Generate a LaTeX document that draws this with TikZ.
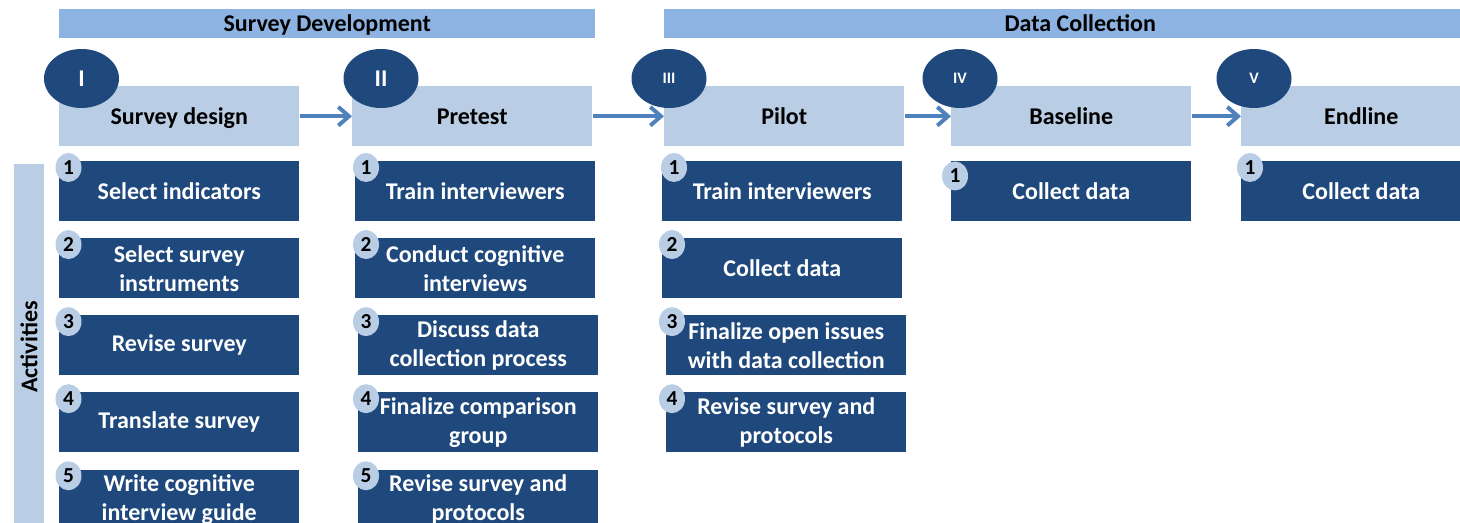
\documentclass[tikz,border=0pt]{standalone}
\usepackage{fontspec}
\setmainfont{Carlito}
\usepackage{xcolor}
\usepackage{tikz}
\usetikzlibrary{arrows.meta,positioning,shapes.geometric}

\definecolor{phaseblue}{HTML}{8DB3E2}
\definecolor{paleblue}{HTML}{B9CDE5}
\definecolor{navy}{HTML}{1F497D}
\definecolor{linkblue}{HTML}{4F81BD}

\begin{document}
\begin{tikzpicture}[
        x=0.75pt, y=-0.75pt,
        font=\bfseries\fontsize{18}{21.75}\selectfont,
        phase/.style={
            fill=phaseblue, anchor=north west, inner sep=0pt,
            text height=12pt, text depth=0pt,
            minimum height=21.75pt
        },
        stage/.style={
            fill=paleblue, anchor=north west,
            text height=12pt, text depth=0pt,
            minimum width=180pt, minimum height=45pt
        },
        task/.style={
            fill=navy, text=white, align=center, inner sep=0pt,
            minimum width=180pt, minimum height=45pt
        },
        roman/.style={
            ellipse, fill=navy, text=white, inner sep=0pt,
            minimum width=56.25pt, minimum height=44.25pt
        },
        num/.style={
            ellipse, fill=paleblue, inner sep=0pt,
            minimum width=19.5pt, minimum height=21.75pt,
            font=\bfseries\fontsize{16}{16}\selectfont
        },
        arrow/.style={-{Straight Barb[length=8pt,width=14pt]}, line width=3pt, draw=linkblue},
        node distance=12.4pt
    ]

    \clip (0,0) rectangle (1460,523);

    % Phase banners
    \node[phase, minimum width=402pt] (dev) at (59,9) {Survey Development};
    \node[phase, minimum width=624pt] (coll) at (664,9) {Data Collection};

    % Stage headers
    \node[stage] (design) at (59,86) {Survey design};
    \node[stage] (pretest) at (352,86) {Pretest};
    \node[stage] (pilot) at (664,86) {Pilot};
    \node[stage] (baseline) at (951,86) {Baseline};
    \node[stage] (endline) at (1241,86) {Endline};

    \draw[arrow] (design) -- (pretest);
    \draw[arrow] (pretest) -- (pilot);
    \draw[arrow] (pilot) -- (baseline);
    \draw[arrow] (baseline) -- (endline);

    % Stage numbers
    \node[roman] (stI) at (81.5,78.5) {I};
    \node[roman] (stII) at (381,78.5) {II};
    \node[roman, font=\bfseries\fontsize{12}{12}\selectfont] (stIII) at (669,78.5) {III};
    \node[roman, font=\bfseries\fontsize{12}{12}\selectfont] (stIV) at (960,78.5) {IV};
    \node[roman, font=\bfseries\fontsize{12}{12}\selectfont] (stV) at (1254,78.5) {V};

    % Side label
    \node[fill=paleblue, rotate=90, inner sep=0pt,
          minimum width=274.5pt, minimum height=22.5pt] (activities) at (29,347) {Activities};

    % Survey design tasks
    \node[task, anchor=north west] (design1) at (59,161) {Select indicators};
    \node[task, below=of design1] (design2) {Select survey\\instruments};
    \node[task, below=of design2] (design3) {Revise survey};
    \node[task, below=of design3] (design4) {Translate survey};
    \node[task, below=of design4] (design5) {Write cognitive\\interview guide};

    % Pretest tasks
    \node[task, anchor=north west] (pretest1) at (355,161) {Train interviewers};
    \node[task, below=of pretest1] (pretest2) {Conduct cognitive\\interviews};
    \node[task, below=of pretest2, xshift=2.25pt] (pretest3) {Discuss data\\collection process};
    \node[task, below=of pretest3] (pretest4) {Finalize comparison\\group};
    \node[task, below=of pretest4] (pretest5) {Revise survey and\\protocols};

    % Pilot tasks
    \node[task, anchor=north west] (pilot1) at (662,161) {Train interviewers};
    \node[task, below=of pilot1] (pilot2) {Collect data};
    \node[task, below=of pilot2, xshift=3pt] (pilot3) {Finalize open issues\\with data collection};
    \node[task, below=of pilot3] (pilot4) {Revise survey and\\protocols};

    % Baseline and endline tasks
    \node[task, anchor=north west] (baseline1) at (951,161) {Collect data};
    \node[task, anchor=north west] (endline1) at (1241,161) {Collect data};

    % Task numbers
    \node[num] (design1n) at ([shift={(9.5,6.5)}]design1.north west) {1};
    \node[num] (design2n) at ([shift={(9.5,6.5)}]design2.north west) {2};
    \node[num] (design3n) at ([shift={(9.5,6.5)}]design3.north west) {3};
    \node[num] (design4n) at ([shift={(9.5,6.5)}]design4.north west) {4};
    \node[num] (design5n) at ([shift={(9.5,6.5)}]design5.north west) {5};
    \node[num] (pretest1n) at ([shift={(11,6.5)}]pretest1.north west) {1};
    \node[num] (pretest2n) at ([shift={(11,6.5)}]pretest2.north west) {2};
    \node[num] (pretest3n) at ([shift={(8,6.5)}]pretest3.north west) {3};
    \node[num] (pretest4n) at ([shift={(8,6.5)}]pretest4.north west) {4};
    \node[num] (pretest5n) at ([shift={(8,6.5)}]pretest5.north west) {5};
    \node[num] (pilot1n) at ([shift={(12,6.5)}]pilot1.north west) {1};
    \node[num] (pilot2n) at ([shift={(10,6.5)}]pilot2.north west) {2};
    \node[num] (pilot3n) at ([shift={(6,6.5)}]pilot3.north west) {3};
    \node[num] (pilot4n) at ([shift={(6,6.5)}]pilot4.north west) {4};
    \node[num] (baseline1n) at ([shift={(4,15)}]baseline1.north west) {1};
    \node[num] (endline1n) at ([shift={(9,6.5)}]endline1.north west) {1};

\end{tikzpicture}
\end{document}
